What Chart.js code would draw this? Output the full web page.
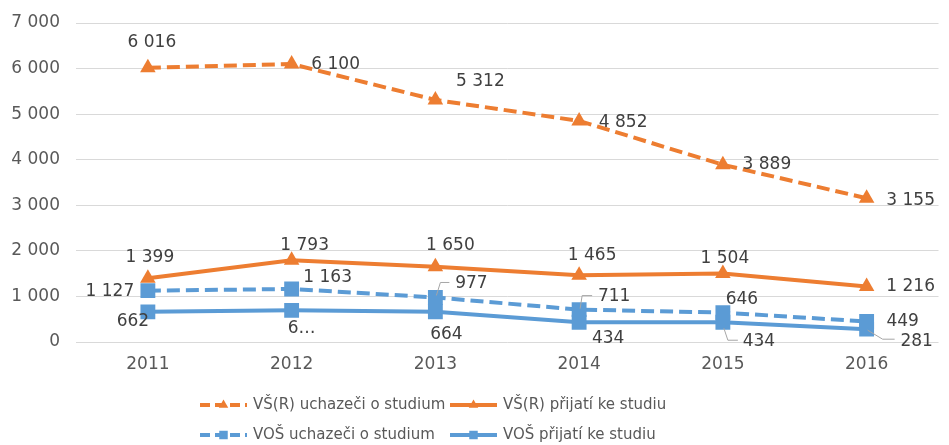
<!DOCTYPE html>
<html>
<head>
<meta charset="utf-8">
<script src="https://cdn.jsdelivr.net/npm/chart.js@4"></script>
<style>
  html, body { margin: 0; padding: 0; background: #fff; overflow: hidden; }
  canvas { display: block; }
</style>
</head>
<body>
<canvas id="viz" width="949" height="445"></canvas>
<script>
// Data
const years = ['2011', '2012', '2013', '2014', '2015', '2016'];
const vsUchazeci = [6016, 6100, 5312, 4852, 3889, 3155];
const vsPrijati = [1399, 1793, 1650, 1465, 1504, 1216];
const vosUchazeci = [1127, 1163, 977, 711, 646, 449];
const vosPrijati = [662, 695, 664, 434, 434, 281];
const yTicks = [0, 1000, 2000, 3000, 4000, 5000, 6000, 7000];

// Label placement (offset of the label centre from its point), kept apart from the data
const labelPos = [
  [[4, -25], [44, 1], [45, -18], [44, 2], [44, 0], [44, 2]],
  [[2, -21], [13, -15], [15, -21], [13, -20], [2, -15], [44, 0]],
  [[-38, 1], [36, -11], [36, -14], [35, -13], [19, -13], [36, 0]],
  [[-15, 10], [10, 18], [11, 23], [29, 16], [36, 19], [50, 12]]
];
// leader lines: [series, point, polyline relative to the point]
const leaders = [
  [2, 2, [[1, -2], [5, -15], [14, -15]]],
  [2, 3, [[1, -1], [3, -14], [13, -14]]],
  [3, 4, [[1, 6], [5, 18], [15, 18]]],
  [3, 5, [[1, 1], [16, 10], [28, 10]]]
];
// the Excel label that is cut off in the original
const truncated = [[3, 1]];

const FONT = "'DejaVu Sans', Verdana, sans-serif";
const ORANGE = '#ED7D31';
const BLUE = '#5B9BD5';
const fmt = (v) => String(v).replace(/\B(?=(\d{3})+(?!\d))/g, ' ');

function series(label, data, color, dashed, style) {
  return {
    label, data,
    borderColor: color,
    backgroundColor: color,
    borderWidth: 4,
    borderDash: dashed ? [13, 6] : [],
    pointStyle: style,
    pointRadius: style === 'rect' ? 10.5 : 9,
    pointBorderWidth: 0,
    pointHoverRadius: style === 'rect' ? 10.5 : 9,
    tension: 0
  };
}

// Data labels + leader lines
const labelPlugin = {
  id: 'labels',
  afterDatasetsDraw(chart) {
    const ctx = chart.ctx;
    ctx.save();
    ctx.strokeStyle = '#a6a6a6';
    ctx.lineWidth = 1;
    leaders.forEach(([s, i, pts]) => {
      const p = chart.getDatasetMeta(s).data[i];
      ctx.beginPath();
      pts.forEach(([dx, dy], k) => {
        if (k === 0) ctx.moveTo(p.x + dx, p.y + dy);
        else ctx.lineTo(p.x + dx, p.y + dy);
      });
      ctx.stroke();
    });
    ctx.font = '17px ' + FONT;
    ctx.fillStyle = '#404040';
    ctx.textAlign = 'center';
    ctx.textBaseline = 'middle';
    chart.data.datasets.forEach((ds, s) => {
      chart.getDatasetMeta(s).data.forEach((p, i) => {
        let txt = fmt(ds.data[i]);
        if (truncated.some(([a, b]) => a === s && b === i)) txt = txt.charAt(0) + '…';
        const [dx, dy] = labelPos[s][i];
        ctx.fillText(txt, p.x + dx, p.y + dy);
      });
    });
    ctx.restore();
  }
};

// Legend in two aligned columns, like the original
const legendPlugin = {
  id: 'legendGrid',
  afterDraw(chart) {
    const ctx = chart.ctx;
    const cols = [200, 450];
    const rows = [405, 435];
    ctx.save();
    chart.data.datasets.forEach((ds, i) => {
      const x = cols[i % 2];
      const y = rows[Math.floor(i / 2)];
      ctx.strokeStyle = ds.borderColor;
      ctx.fillStyle = ds.borderColor;
      ctx.lineWidth = 4;
      ctx.setLineDash(ds.borderDash.length ? [10, 5] : []);
      ctx.beginPath();
      ctx.moveTo(x, y);
      ctx.lineTo(x + 47, y);
      ctx.stroke();
      ctx.setLineDash([]);
      Chart.helpers.drawPoint(ctx, { pointStyle: ds.pointStyle, radius: ds.pointStyle === 'rect' ? 6 : 5.5, borderWidth: 0 }, x + 23.5, y);
      ctx.font = '15px ' + FONT;
      ctx.fillStyle = '#595959';
      ctx.textAlign = 'left';
      ctx.textBaseline = 'middle';
      ctx.fillText(ds.label, x + 53, y);
    });
    ctx.restore();
  }
};

const datasets = [
  series('VŠ(R) uchazeči o studium', vsUchazeci, ORANGE, true, 'triangle'),
  series('VŠ(R) přijatí ke studiu', vsPrijati, ORANGE, false, 'triangle'),
  series('VOŠ uchazeči o studium', vosUchazeci, BLUE, true, 'rect'),
  series('VOŠ přijatí ke studiu', vosPrijati, BLUE, false, 'rect')
];
// later series on top, as in Excel
datasets.forEach((d, i) => { d.order = datasets.length - i; });

new Chart(document.getElementById('viz').getContext('2d'), {
  type: 'line',
  data: { labels: years, datasets },
  plugins: [labelPlugin, legendPlugin],
  options: {
    responsive: false,
    animation: false,
    events: [],
    layout: { padding: { top: 23, right: 1, bottom: 70.6, left: 0 } },
    plugins: { legend: { display: false }, tooltip: { enabled: false } },
    scales: {
      x: {
        offset: true,
        afterFit: (axis) => { axis.paddingLeft = 0; axis.paddingRight = 0; },
        grid: { display: true, drawOnChartArea: false, drawTicks: true, tickLength: 12, tickColor: 'transparent' },
        border: { display: false },
        ticks: { color: '#595959', font: { family: FONT, size: 17 }, padding: 0 }
      },
      y: {
        min: yTicks[0],
        max: yTicks[yTicks.length - 1],
        afterBuildTicks: (axis) => { axis.ticks = yTicks.map(v => ({ value: v })); },
        afterFit: (axis) => { axis.width = 76; },
        grid: { color: '#d9d9d9', lineWidth: 1, drawTicks: true, tickLength: 16, tickColor: 'transparent' },
        border: { display: false },
        ticks: { color: '#595959', font: { family: FONT, size: 17 }, padding: 0, callback: (v) => fmt(v) }
      }
    }
  }
});
</script>
</body>
</html>
